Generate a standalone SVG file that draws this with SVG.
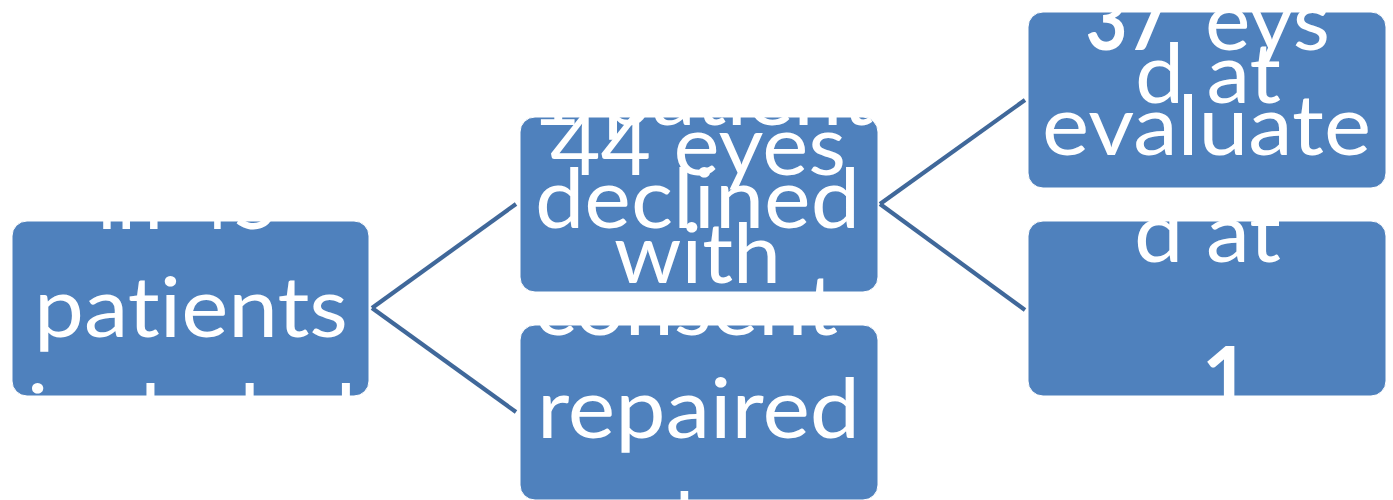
<svg xmlns="http://www.w3.org/2000/svg" width="1393" height="500" viewBox="0 0 1393 500">
<style>
.box{fill:#4F81BD;stroke:#FFFFFF;stroke-width:1}
.conn{fill:none;stroke:#40689A;stroke-width:4.2;stroke-linecap:butt}
.t{font-family:Lato,"Liberation Sans",sans-serif;font-size:84px;fill:#FFFFFF;text-anchor:middle;font-variant-ligatures:none;font-feature-settings:"liga" 0,"clig" 0}
.b{font-weight:bold}
</style>
<defs>
<clipPath id="boxclip">
<rect x="12" y="221" width="357" height="175" rx="15"/>
<rect x="520" y="117" width="358" height="175" rx="15"/>
<rect x="520" y="325" width="358" height="175" rx="15"/>
<rect x="1028" y="12" width="358" height="176" rx="15"/>
<rect x="1028" y="221" width="358" height="175" rx="15"/>
</clipPath>
</defs>
<g id="connectors">
<path class="conn" d="M372,308 L516,204"/>
<path class="conn" d="M372,308 L516,412"/>
<path class="conn" d="M880,204 L1025,100"/>
<path class="conn" d="M880,204 L1025,310"/>
</g>
<g id="node1"><rect class="box" x="12" y="221" width="357" height="175" rx="15"/></g>
<g id="node2"><rect class="box" x="520" y="117" width="358" height="175" rx="15"/></g>
<g id="node3"><rect class="box" x="520" y="325" width="358" height="175" rx="15"/></g>
<g id="node4"><rect class="box" x="1028" y="12" width="358" height="176" rx="15"/></g>
<g id="node5"><rect class="box" x="1028" y="221" width="358" height="175" rx="15"/></g>
<g id="labels" clip-path="url(#boxclip)">
<g id="node1-label">
<text class="t" x="188.5" y="229" textLength="183" lengthAdjust="spacingAndGlyphs">in 45</text>
<text class="t" x="191" y="337" textLength="314" lengthAdjust="spacingAndGlyphs">patients</text>
<text class="t" x="191.5" y="444" textLength="329" lengthAdjust="spacingAndGlyphs">included</text>
</g>
<g id="node2-label">
<text class="t" x="701.5" y="125" textLength="343" lengthAdjust="spacingAndGlyphs">1 patient</text>
<text class="t" x="697.5" y="228" textLength="325" lengthAdjust="spacingAndGlyphs">declined</text>
<text class="t" x="686" y="335" textLength="304" lengthAdjust="spacingAndGlyphs">consent</text>
</g>
<g id="node3-label">
<text class="t" x="698" y="175" textLength="296" lengthAdjust="spacingAndGlyphs">44 eyes</text>
<text class="t" x="697.5" y="283" textLength="167" lengthAdjust="spacingAndGlyphs">with</text>
<text class="t" x="698.5" y="438" textLength="323" lengthAdjust="spacingAndGlyphs">repaired</text>
<text class="t" x="684.5" y="552">l</text>
</g>
<g id="node4-label">
<text class="t b" x="1127.5" y="50" textLength="84" lengthAdjust="spacingAndGlyphs">37</text>
<text class="t" x="1267.5" y="50" textLength="125" lengthAdjust="spacingAndGlyphs">eys</text>
<text class="t" x="1206.5" y="155" textLength="329" lengthAdjust="spacingAndGlyphs">evaluate</text>
<text class="t" x="1207.5" y="262" textLength="147" lengthAdjust="spacingAndGlyphs">d at</text>
</g>
<g id="node5-label">
<text class="t" x="1208" y="103" textLength="146" lengthAdjust="spacingAndGlyphs">d at</text>
<text class="t b" x="1226" y="407">1</text>
</g>
</g>
</svg>
